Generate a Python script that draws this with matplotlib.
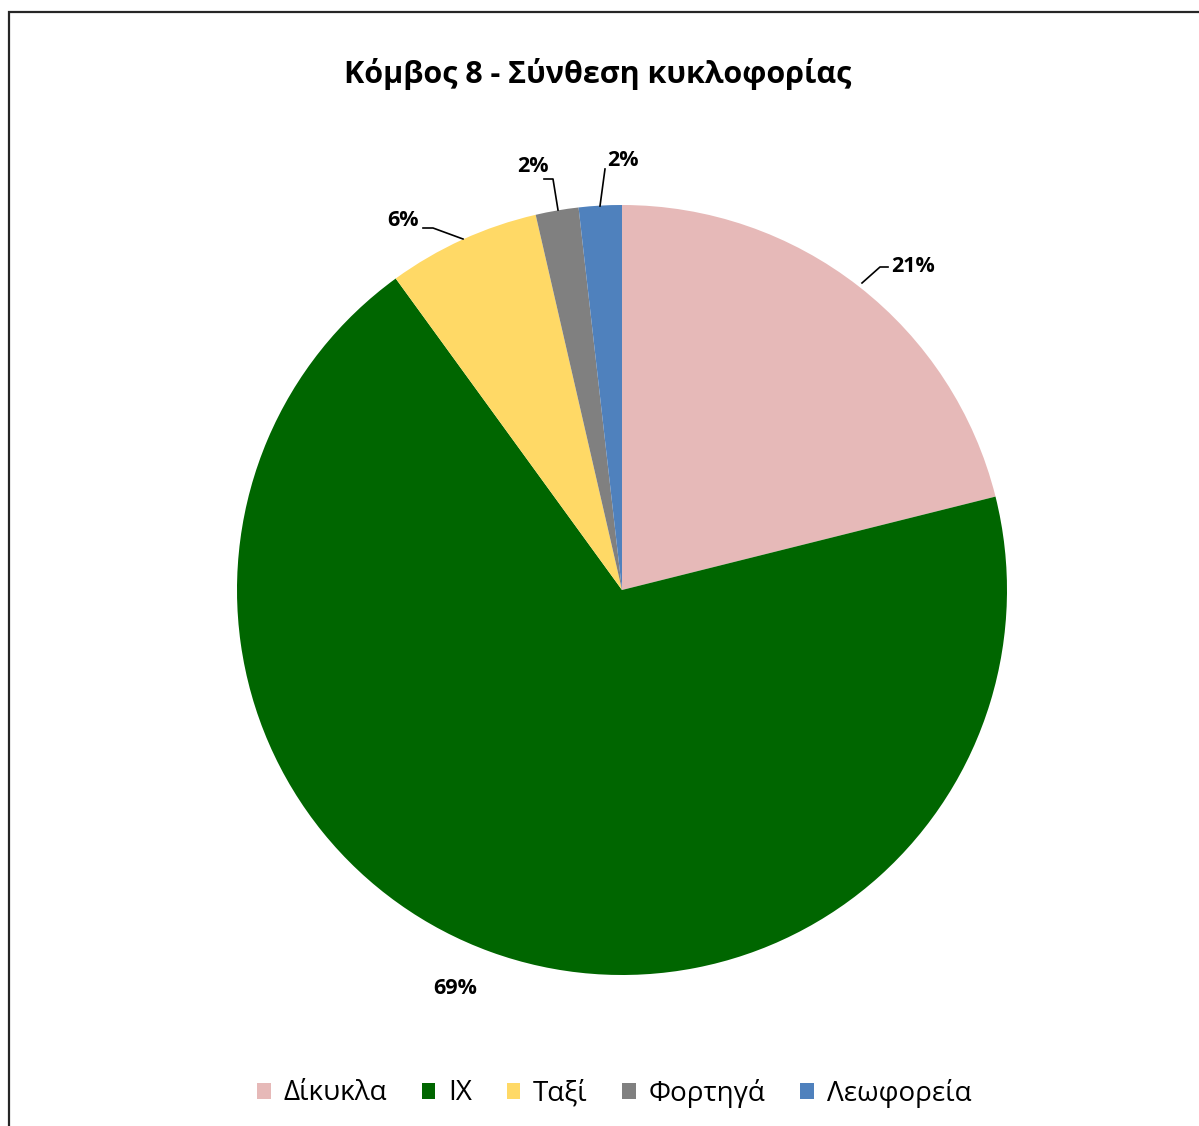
import matplotlib.pyplot as plt
from matplotlib.patches import Patch, Rectangle

plt.rcParams['font.family'] = ['Open Sans', 'DejaVu Sans']

categories = ['Δίκυκλα', 'ΙΧ', 'Ταξί', 'Φορτηγά', 'Λεωφορεία']
shares = [21.1, 68.9, 6.4, 1.8, 1.8]
colors = ['#E6B9B8', '#006600', '#FFD966', '#808080', '#4F81BD']
title = 'Κόμβος 8 - Σύνθεση κυκλοφορίας'

W, H = 1199, 1126
CX, CY, R = 622, 590, 385

fig = plt.figure(figsize=(W / 100, H / 100), dpi=100)
ax = fig.add_axes([(CX - R) / W, (H - CY - R) / H, 2 * R / W, 2 * R / H])
ax.pie(shares, colors=colors, startangle=90, counterclock=False, radius=1,
       wedgeprops=dict(linewidth=0))
ax.set_xlim(-1, 1)
ax.set_ylim(-1, 1)
ax.set_aspect('auto')
ax.axis('off')


def px(x, y):
    # pixel position -> data position
    return ((x - CX) / R, (CY - y) / R)


# label text positions and leader lines (pixel coords)
label_pos = [(913, 267), (455, 988), (403, 220), (533, 166), (623, 161)]
leaders = [
    [(862, 283), (880, 267), (888, 267)],
    None,
    [(463, 239), (433, 228), (423, 228)],
    [(558, 210), (553, 179), (544, 179)],
    [(600, 206), (605, 169)],
]
for v, pos, ld in zip(shares, label_pos, leaders):
    ax.text(*px(*pos), f'{v:.0f}%', ha='center', va='center',
            fontsize=15.5, fontweight='bold', clip_on=False)
    if ld:
        xs, ys = zip(*[px(*p) for p in ld])
        ax.plot(xs, ys, color='black', lw=1.2, clip_on=False)

fig.text(598 / W, 1 - 74 / H, title, ha='center', va='center',
         fontsize=22, fontweight='bold')

handles = [Patch(facecolor=c, edgecolor='none') for c in colors]
fig.legend(handles, categories, loc='center', bbox_to_anchor=(614 / W, 1 - 1093 / H),
           ncol=5, frameon=False, fontsize=20, handlelength=0.5, handleheight=0.5,
           handletextpad=0.45, columnspacing=1.25)

# chart border
fig.add_artist(Rectangle((8.5 / W, -0.01), 1.1, 1 - 11.5 / H + 0.01,
                         transform=fig.transFigure, fill=False,
                         edgecolor='#262626', lw=1.6))

fig.savefig('out.png', dpi=100, facecolor='white')
